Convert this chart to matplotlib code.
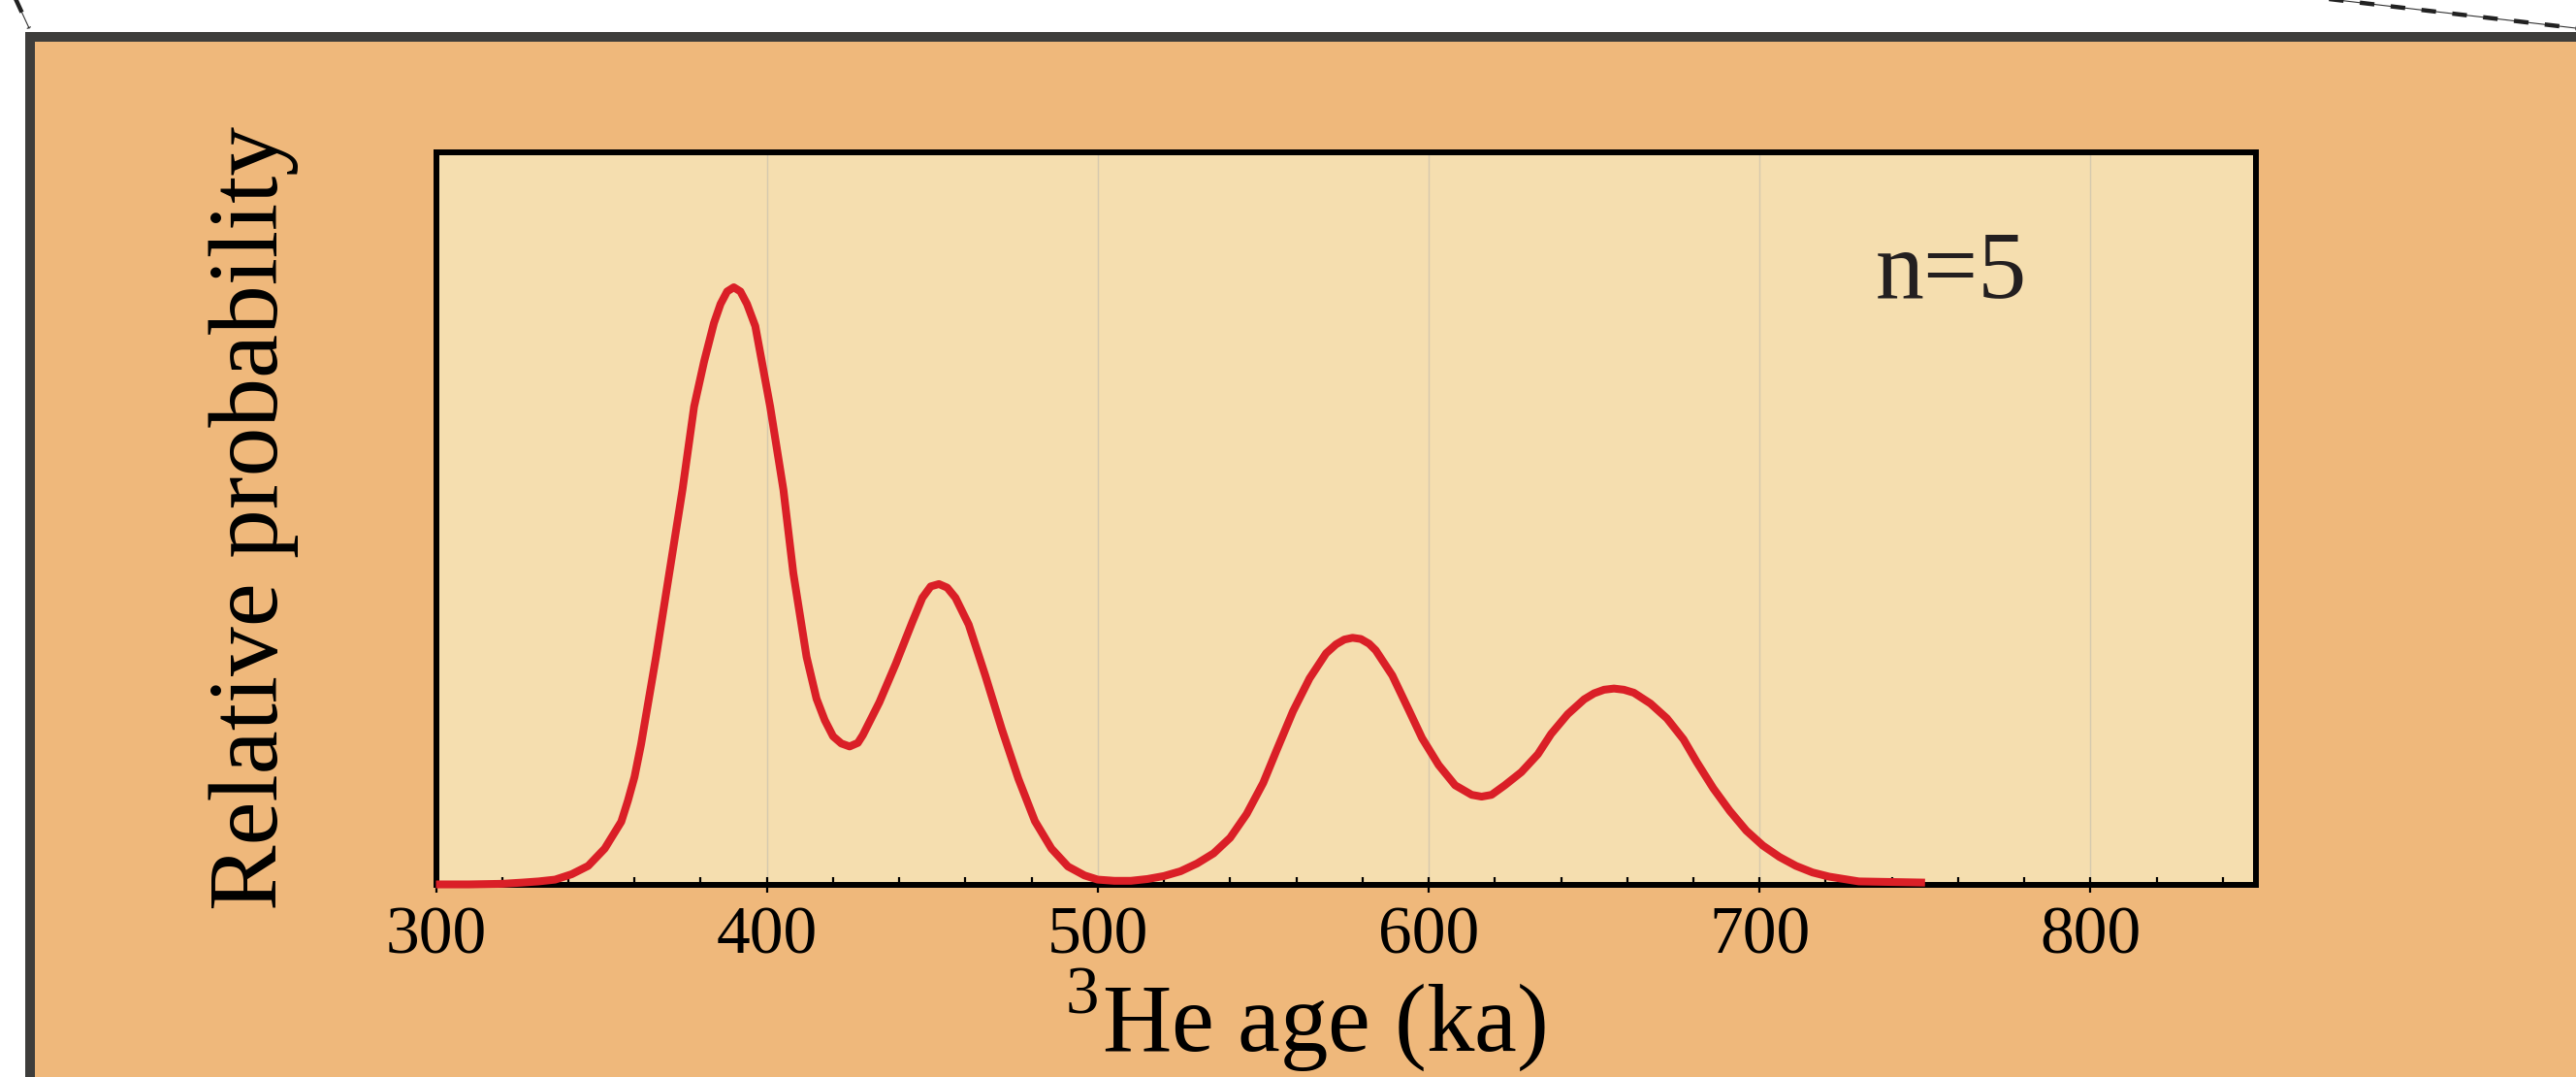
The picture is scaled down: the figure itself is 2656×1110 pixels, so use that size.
import matplotlib
matplotlib.use("Agg")
import matplotlib.pyplot as plt
from matplotlib.patches import Rectangle
from matplotlib.lines import Line2D
from matplotlib.ticker import MultipleLocator

plt.rcParams['font.family'] = ['Liberation Serif', 'DejaVu Serif']
plt.rcParams['mathtext.fontset'] = 'custom'
plt.rcParams['mathtext.rm'] = 'Liberation Serif'

# ages (ka) and relative probability
ages = [300, 310, 320, 326, 331, 336, 341, 346, 351, 356, 358, 360, 362, 364,
        366.5, 370.5, 374.5, 378, 381, 384, 386, 388, 390, 392, 394, 396.5,
        401, 405, 408, 412, 415, 417.5, 420, 422.5, 425, 427.5, 429, 434, 439,
        444, 447, 449.5, 452, 454.5, 457, 461, 466, 471, 476, 481, 486, 491,
        496, 500, 505, 510, 515, 520, 525, 530, 535, 540, 545, 550, 554, 559,
        564, 569, 572, 574.5, 577, 579.5, 582, 584, 589, 594, 598, 603, 608,
        613, 616, 619, 623, 628, 633, 637, 642, 647, 650, 653, 656, 659, 662,
        667, 672, 677, 681, 686, 691, 696, 701, 706, 711, 716, 721, 730, 740,
        750]
prob = [0.000, 0.000, 0.001, 0.003, 0.005, 0.008, 0.017, 0.031, 0.060, 0.105,
        0.140, 0.180, 0.235, 0.300, 0.381, 0.521, 0.661, 0.800, 0.875, 0.940,
        0.972, 0.993, 1.000, 0.993, 0.972, 0.935, 0.800, 0.661, 0.521, 0.381,
        0.311, 0.275, 0.248, 0.236, 0.231, 0.237, 0.250, 0.305, 0.370, 0.440,
        0.480, 0.499, 0.503, 0.497, 0.480, 0.435, 0.350, 0.260, 0.177, 0.106,
        0.060, 0.030, 0.015, 0.008, 0.006, 0.006, 0.009, 0.014, 0.022, 0.035,
        0.052, 0.078, 0.118, 0.170, 0.224, 0.290, 0.345, 0.387, 0.402, 0.410,
        0.413, 0.411, 0.403, 0.392, 0.350, 0.292, 0.245, 0.200, 0.166, 0.150,
        0.147, 0.150, 0.166, 0.188, 0.218, 0.252, 0.285, 0.310, 0.320, 0.326,
        0.328, 0.326, 0.321, 0.303, 0.278, 0.243, 0.205, 0.161, 0.123, 0.090,
        0.065, 0.046, 0.031, 0.020, 0.013, 0.005, 0.004, 0.003]
xticks = [300, 400, 500, 600, 700, 800]
n_label = "n=5"

W, H = 2656, 1110
fig = plt.figure(figsize=(W / 100, H / 100), dpi=100)
fig.patch.set_facecolor('white')


def fx(x):
    return x / W


def fy(y):
    return 1 - y / H


# background panel with dark frame (top / left)
fig.add_artist(Rectangle((fx(26), -0.05), 1.1, fy(33) + 0.05,
                         transform=fig.transFigure, facecolor='#3E3D3B',
                         edgecolor='none', zorder=0))
fig.add_artist(Rectangle((fx(36), -0.05), 1.1, fy(43) + 0.05,
                         transform=fig.transFigure, facecolor='#EFB87B',
                         edgecolor='none', zorder=0))

# dashed callout lines at the top corners
for (x0, y0), (x1, y1) in [((12, -10), (30, 29)), ((2325, -10), (2660, 29.5))]:
    fig.add_artist(Line2D([fx(x0), fx(x1)], [fy(y0), fy(y1)],
                          transform=fig.transFigure, color='#333333', lw=0.8))
    fig.add_artist(Line2D([fx(x0), fx(x1)], [fy(y0), fy(y1)],
                          transform=fig.transFigure, color='#222222', lw=3.2,
                          dashes=(3.4, 3.8)))

ax = fig.add_axes([fx(449.5), fy(911.5), fx(2326) - fx(449.5),
                   fy(157) - fy(911.5)])
ax.set_facecolor('#F5DEAF')
ax.plot(ages, prob, color='#DA1F27', lw=5.8, zorder=3, clip_on=False,
        solid_joinstyle='round', solid_capstyle='butt')

ax.set_xlim(300, 850)
ax.set_ylim(0, 1.226)
ax.set_yticks([])
ax.set_xticks(xticks)
ax.xaxis.set_minor_locator(MultipleLocator(20))
ax.tick_params(axis='x', which='major', direction='inout', length=12,
               width=1.6, labelsize=50, pad=10, colors='black')
ax.tick_params(axis='x', which='minor', direction='in', length=5.5, width=1.6)
ax.grid(axis='x', which='major', color='#D6C9AE', lw=1.0)
ax.set_axisbelow(True)
for s in ax.spines.values():
    s.set_linewidth(4.3)
    s.set_color('black')

ax.set_xlabel(r'$^{\mathrm{3}}$He age (ka)', fontsize=71)
ax.xaxis.set_label_coords(0.4775, -0.112)
ax.set_ylabel('Relative probability', fontsize=73)
ax.yaxis.set_label_coords(-0.0754, 0.5)

ax.text(0.8327, 0.8017, n_label, transform=ax.transAxes, fontsize=72,
        color='#231F20', ha='center', va='baseline')

fig.savefig('out.png', dpi=100)
